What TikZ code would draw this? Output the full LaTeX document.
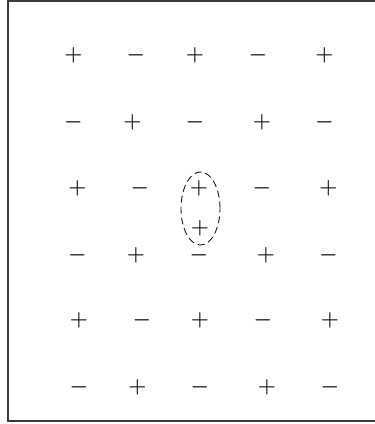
\documentclass[tikz,border=0pt]{standalone}
\usepackage{tikz}
\usetikzlibrary{shapes.geometric}
\definecolor{ink}{HTML}{1A1A1A}
\tikzset{
  sign/.style={inner sep=0pt,text=ink,font=\fontsize{22}{24}\selectfont\boldmath},
  pairring/.style={ellipse,draw=ink,dash pattern=on 7pt off 4pt,line width=0.9pt,
                   minimum width=39pt,minimum height=73pt,inner sep=0pt},
  frame/.style={draw=ink!85,line width=1.6pt}
}
\begin{document}
\begin{tikzpicture}[x=1pt,y=-1pt]
    \useasboundingbox (0,0) rectangle (375,424);
    \draw[frame] (380,1) -- (8,1) -- (8,421) -- (380,421);
    % row 1
    \node[sign] (s11) at (73.5,55) {$+$};
    \node[sign] (s12) at (136,55) {$-$};
    \node[sign] (s13) at (195,55) {$+$};
    \node[sign] (s14) at (258,55) {$-$};
    \node[sign] (s15) at (324.5,55) {$+$};
    % row 2
    \node[sign] (s21) at (73.5,122) {$-$};
    \node[sign] (s22) at (132.5,122) {$+$};
    \node[sign] (s23) at (195,122) {$-$};
    \node[sign] (s24) at (262,122) {$+$};
    \node[sign] (s25) at (324.5,122) {$-$};
    % row 3
    \node[sign] (s31) at (77.5,188) {$+$};
    \node[sign] (s32) at (140,188) {$-$};
    \node[sign] (s33) at (199,188) {$+$};
    \node[sign] (s34) at (262,188) {$-$};
    \node[sign] (s35) at (328.5,188) {$+$};
    % extra charge inside the ring
    \node[sign] (sx) at (200,228) {$+$};
    % row 4
    \node[sign] (s41) at (77.5,255) {$-$};
    \node[sign] (s42) at (136,255) {$+$};
    \node[sign] (s43) at (199,255) {$-$};
    \node[sign] (s44) at (266,255) {$+$};
    \node[sign] (s45) at (328.5,255) {$-$};
    % row 5
    \node[sign] (s51) at (79,320) {$+$};
    \node[sign] (s52) at (142,320) {$-$};
    \node[sign] (s53) at (200,320) {$+$};
    \node[sign] (s54) at (263,320) {$-$};
    \node[sign] (s55) at (330,320) {$+$};
    % row 6
    \node[sign] (s61) at (79,387) {$-$};
    \node[sign] (s62) at (137.5,387) {$+$};
    \node[sign] (s63) at (200,387) {$-$};
    \node[sign] (s64) at (267,387) {$+$};
    \node[sign] (s65) at (330,387) {$-$};
    % dashed ring round the pair
    \node[pairring] (pair) at (200.5,208.5) {};
\end{tikzpicture}
\end{document}
